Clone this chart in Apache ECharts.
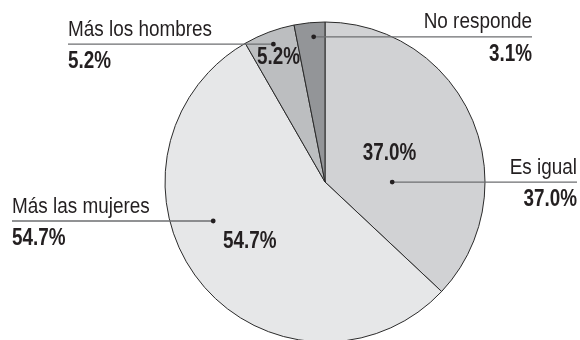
<!DOCTYPE html>
<html>
<head>
<meta charset="utf-8">
<script src="https://cdn.jsdelivr.net/npm/echarts@6/dist/echarts.min.js"></script>
<style>
  html, body { margin: 0; padding: 0; background: #fff; }
  #chart { width: 580px; height: 340px; }
</style>
</head>
<body>
<div id="chart"></div>
<script>
// Answers, clockwise from 12 o'clock
const categories = ['Es igual', 'Más las mujeres', 'Más los hombres', 'No responde'];
const values = [37.0, 54.7, 5.2, 3.1];
const sliceColors = ['#d1d2d4', '#e6e7e8', '#bcbec0', '#939598'];

// Pie geometry
const CX = 325, CY = 182, R = 160;
const FONT = '"Liberation Sans", Arial, sans-serif';
const INK = '#231f20';

// Callout placement per slice:
// at = fraction through the slice's sweep, rf = fraction of radius,
// lineEnd = x where the leader line ends, side = text alignment
const callouts = [
  { at: 0.676, rf: 0.42, lineEnd: 577, side: 'right' },
  { at: 0.597, rf: 0.74, lineEnd: 12,  side: 'left'  },
  { at: 0.5,   rf: 0.92, lineEnd: 68,  side: 'left'  },
  { at: 0.6,   rf: 0.91, lineEnd: 532, side: 'right' }
];
// Inside percentage labels (the thin slice at the top has none)
const insideLabels = [
  { at: 0.5, rf: 0.44 },
  { at: 0.5, rf: 0.60 },
  { at: 0.5, rf: 0.83 },
  null
];

const fmt = v => v.toFixed(1) + '%';

const chart = echarts.init(document.getElementById('chart'), null, { renderer: 'canvas' });

const total = values.reduce((a, b) => a + b, 0);
function pointAt(i, at, rf) {
  let before = 0;
  for (let k = 0; k < i; k++) before += values[k];
  const deg = (before + values[i] * at) / total * 360;
  const rad = deg * Math.PI / 180;
  return [CX + R * rf * Math.sin(rad), CY - R * rf * Math.cos(rad)];
}

// Condensed-looking text: a regular face squeezed horizontally
function narrowText(text, x, y, align, font, squeeze) {
  return {
    type: 'text', silent: true, z: 11,
    x: x, y: y, scaleX: squeeze, scaleY: 1,
    style: {
      text: text, x: 0, y: 0,
      textAlign: align, textVerticalAlign: 'middle',
      font: font, fill: INK
    }
  };
}

const graphics = [];
categories.forEach((name, i) => {
  const c = callouts[i];
  const [ax, ay] = pointAt(i, c.at, c.rf);
  graphics.push({
    type: 'line', silent: true, z: 10,
    shape: { x1: ax, y1: ay, x2: c.lineEnd, y2: ay },
    style: { stroke: '#6d6e71', lineWidth: 1.3 }
  });
  graphics.push({
    type: 'circle', silent: true, z: 11,
    shape: { cx: ax, cy: ay, r: 2.4 },
    style: { fill: INK }
  });
  graphics.push(narrowText(name, c.lineEnd, ay - 14.5, c.side, '22px ' + FONT, 0.86));
  graphics.push(narrowText(fmt(values[i]), c.lineEnd, ay + 17.5, c.side, 'bold 23px ' + FONT, 0.82));
  const il = insideLabels[i];
  if (il) {
    const [lx, ly] = pointAt(i, il.at, il.rf);
    graphics.push(narrowText(fmt(values[i]), lx, ly, 'center', 'bold 23px ' + FONT, 0.82));
  }
});

chart.setOption({
  animation: false,
  backgroundColor: '#ffffff',
  series: [{
    type: 'pie',
    center: [CX, CY],
    radius: R,
    startAngle: 90,
    clockwise: true,
    avoidLabelOverlap: false,
    label: { show: false },
    labelLine: { show: false },
    emphasis: { disabled: true },
    itemStyle: { borderColor: '#2b2b2b', borderWidth: 1 },
    data: categories.map((name, i) => ({
      name, value: values[i], itemStyle: { color: sliceColors[i] }
    }))
  }],
  graphic: graphics
});
</script>
</body>
</html>
